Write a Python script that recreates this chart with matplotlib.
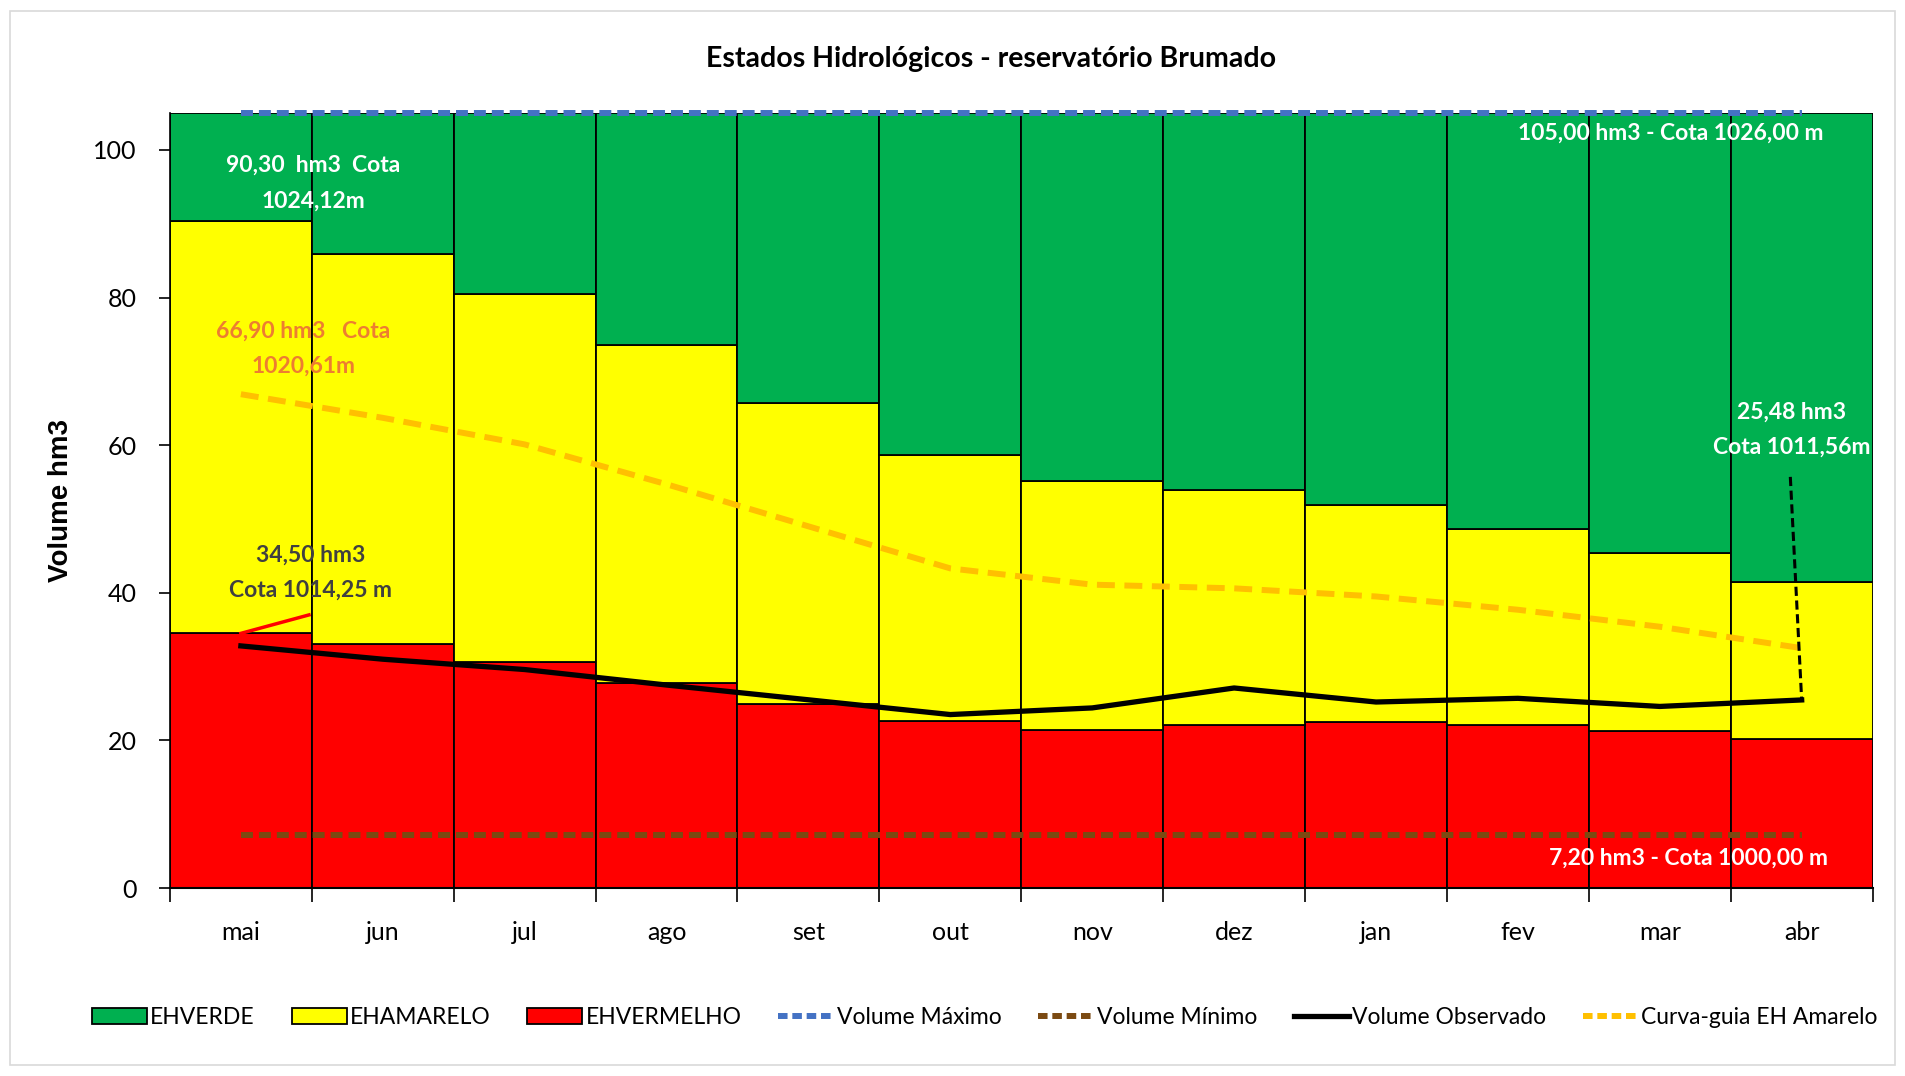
import matplotlib
matplotlib.use("Agg")
import matplotlib.pyplot as plt
from matplotlib.patches import Patch, Rectangle
from matplotlib.lines import Line2D

plt.rcParams['font.family'] = ['Lato', 'DejaVu Sans']

months = ["mai", "jun", "jul", "ago", "set", "out", "nov", "dez", "jan", "fev", "mar", "abr"]
eh_vermelho = [34.5, 33.0, 30.6, 27.8, 24.9, 22.6, 21.4, 22.1, 22.5, 22.1, 21.3, 20.2]
eh_amarelo_top = [90.3, 85.9, 80.5, 73.5, 65.7, 58.6, 55.1, 53.9, 51.9, 48.6, 45.4, 41.5]
eh_verde_top = [105.0] * 12
volume_maximo = [105.0] * 12
volume_minimo = [7.2] * 12
volume_observado = [32.8, 31.0, 29.6, 27.5, 25.5, 23.5, 24.4, 27.1, 25.2, 25.7, 24.6, 25.48]
curva_guia = [66.9, 63.7, 60.1, 54.7, 49.0, 43.3, 41.1, 40.6, 39.5, 37.7, 35.4, 32.5]
yticks = [0, 20, 40, 60, 80, 100]

C_GREEN = "#00B050"
C_YELLOW = "#FFFF00"
C_RED = "#FF0000"
C_BLUE = "#4472C4"
C_BROWN = "#7B4A12"
C_GOLD = "#FFC000"

fig = plt.figure(figsize=(19.05, 10.76), dpi=100)
fig.patches.append(Rectangle((0.005, 0.01), 0.99, 0.98, transform=fig.transFigure,
                             fill=False, edgecolor="#D9D9D9", linewidth=1.2))
ax = fig.add_axes([0.0892, 0.1747, 0.8938, 0.7203])

x = list(range(len(months)))
yellow_h = [a - r for a, r in zip(eh_amarelo_top, eh_vermelho)]
green_h = [g - a for g, a in zip(eh_verde_top, eh_amarelo_top)]

ax.bar(x, eh_vermelho, width=1.0, color=C_RED, edgecolor="black", linewidth=1.3, zorder=2)
ax.bar(x, yellow_h, bottom=eh_vermelho, width=1.0, color=C_YELLOW, edgecolor="black", linewidth=1.3, zorder=2)
ax.bar(x, green_h, bottom=eh_amarelo_top, width=1.0, color=C_GREEN, edgecolor="black", linewidth=1.3, zorder=2)

ax.plot(x, volume_maximo, color=C_BLUE, lw=4.3, dashes=(2.0, 1.0), zorder=4, clip_on=False)
ax.plot(x, volume_minimo, color=C_BROWN, lw=4.3, dashes=(2.0, 1.0), zorder=4)
ax.plot(x, curva_guia, color=C_GOLD, lw=4.3, dashes=(3.0, 1.6), zorder=4)
ax.plot(x, volume_observado, color="black", lw=3.8, zorder=5, solid_joinstyle="round")

ax.set_xlim(-0.5, 11.5)
ax.set_ylim(0, 105)
ax.set_yticks(yticks)
ax.set_yticklabels([str(v) for v in yticks], fontsize=18)
ax.set_xticks([i + 0.5 for i in range(-1, 12)])
ax.set_xticklabels([])
ax.set_xticks(x, minor=True)
ax.set_xticklabels(months, minor=True, fontsize=18)
ax.tick_params(axis="x", which="major", length=10, width=1.2, direction="out")
ax.tick_params(axis="x", which="minor", length=0, pad=24)
ax.tick_params(axis="y", length=8, width=1.2, direction="out", pad=16)
for s in ["top", "right"]:
    ax.spines[s].set_visible(False)
ax.spines["left"].set_linewidth(1.2)
ax.spines["bottom"].set_linewidth(1.5)
ax.set_ylabel("Volume hm3", fontsize=20, fontweight="bold", labelpad=14,
              family=["Liberation Sans", "DejaVu Sans"])

fig.text(0.52, 0.945, "Estados Hidrológicos - reservatório Brumado", ha="center", va="center",
         fontsize=20.5, fontweight="bold")

tkw = dict(ha="center", va="center", fontsize=16.5, fontweight="bold", zorder=6, linespacing=1.85)
ax.text(0.51, 95.5, "90,30  hm3  Cota\n1024,12m", color="white", **tkw)
ax.text(0.44, 73.1, "66,90 hm3   Cota\n1020,61m", color="#ED7D31", **tkw)
ax.text(0.49, 42.7, "34,50 hm3\nCota 1014,25 m", color="#404040", **tkw)
ax.text(10.08, 102.2, "105,00 hm3 - Cota 1026,00 m", color="white", **tkw)
ax.text(10.93, 62.1, "25,48 hm3\nCota 1011,56m", color="white", **tkw)
ax.text(10.2, 4.1, "7,20 hm3 - Cota 1000,00 m", color="white", **tkw)

ax.plot([0, 0.48], [eh_vermelho[0], 37.0], color=C_RED, lw=2.5, zorder=6)
ax.plot([10.92, 11], [55.7, volume_observado[11]], color="black", lw=2.2, ls=(0, (3, 1.5)), zorder=6)

handles = [
    Patch(facecolor=C_GREEN, edgecolor="black", linewidth=1.3, label="EHVERDE"),
    Patch(facecolor=C_YELLOW, edgecolor="black", linewidth=1.3, label="EHAMARELO"),
    Patch(facecolor=C_RED, edgecolor="black", linewidth=1.3, label="EHVERMELHO"),
    Line2D([], [], color=C_BLUE, lw=4.3, dashes=(1.6, 0.8), label="Volume Máximo"),
    Line2D([], [], color=C_BROWN, lw=4.3, dashes=(1.6, 0.8), label="Volume Mínimo"),
    Line2D([], [], color="black", lw=3.8, label="Volume Observado"),
    Line2D([], [], color=C_GOLD, lw=4.3, dashes=(1.6, 0.8), label="Curva-guia EH Amarelo"),
]
fig.legend(handles=handles, loc="center", bbox_to_anchor=(0.517, 0.054), ncol=7, frameon=False,
           fontsize=16.5, handlelength=2.4, handletextpad=0.15, columnspacing=1.6)

fig.savefig("out.png", dpi=100)
